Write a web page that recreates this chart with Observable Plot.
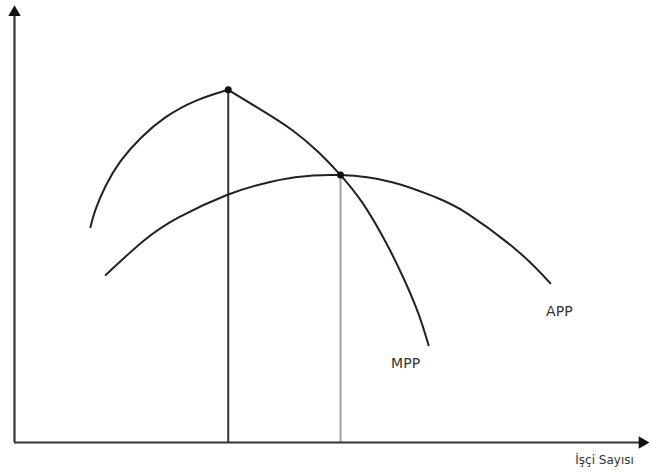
<!DOCTYPE html>
<html>
<head>
<meta charset="utf-8">
<script src="https://cdn.jsdelivr.net/npm/d3@7"></script>
<script src="https://cdn.jsdelivr.net/npm/@observablehq/plot@0.6"></script>
<style>
  html, body { margin: 0; padding: 0; background: #fff; }
  #chart svg { display: block; }
</style>
</head>
<body>
<div id="chart"></div>
<script>
// Labour (x) and output (y) in abstract units
const mppLeftX  = [11.9, 12.7, 14.3, 16.6, 19.8, 23.7, 28.4, 33.5];
const mppLeftY  = [48.7, 52.7, 58.1, 63.6, 68.9, 73.6, 77.3, 79.8];
const mppRightX = [33.5, 38.6, 43.6, 47.7, 51.1, 54.6, 58.2, 61.0, 63.3, 64.9];
const mppRightY = [79.8, 75.3, 70.6, 65.6, 60.5, 54.1, 45.3, 37.1, 29.2, 22.0];
const appX = [14.3, 20.2, 25.8, 33.3, 38.8, 44.0, 51.1, 59.2, 66.0, 71.0, 78.8, 84.0];
const appY = [37.9, 45.6, 51.0, 56.0, 58.5, 60.0, 60.5, 58.9, 55.5, 51.8, 43.4, 36.0];
const keyX = [33.5, 51.1];   // MPP max, MPP = APP
const keyY = [79.8, 60.5];
const curveLabels = ["APP", "MPP"];
const labelX = [85.4, 61.3];
const labelY = [29.6, 17.9];
const axisLabel = "İşçi Sayısı";
const axisTop = 97.3;
const axisRight = 98.4;

const mpp = [
  ...mppLeftX.map((x, i) => ({x, y: mppLeftY[i], seg: "a"})),
  ...mppRightX.map((x, i) => ({x, y: mppRightY[i], seg: "b"}))
];
const app = appX.map((x, i) => ({x, y: appY[i]}));
const keys = keyX.map((x, i) => ({x, y: keyY[i]}));
const labels = curveLabels.map((t, i) => ({t, x: labelX[i], y: labelY[i]}));

const chart = Plot.plot({
  width: 652,
  height: 474,
  marginLeft: 14,
  marginRight: 0,
  marginTop: 0,
  marginBottom: 32,
  x: {domain: [0, 100], axis: null},
  y: {domain: [0, 100], axis: null},
  style: {background: "#fff", fontFamily: "DejaVu Sans, sans-serif"},
  marks: [
    // vertical guide lines
    Plot.ruleX([keys[0]], {x: "x", y1: 0, y2: "y", stroke: "#333", strokeWidth: 2}),
    Plot.ruleX([keys[1]], {x: "x", y1: 0, y2: "y", stroke: "#a0a0a0", strokeWidth: 2}),
    // axes
    Plot.ruleX([0], {y1: 0, y2: axisTop, stroke: "#333", strokeWidth: 2.2}),
    Plot.ruleY([0], {x1: 0, x2: axisRight, stroke: "#333", strokeWidth: 2.2}),
    Plot.dot([{x: 0, y: axisTop}], {x: "x", y: "y", symbol: "triangle", r: 4.6, fill: "#111", stroke: "none"}),
    Plot.dot([{x: axisRight, y: 0}], {x: "x", y: "y", symbol: "triangle", rotate: 90, r: 4.6, fill: "#111", stroke: "none"}),
    // curves
    Plot.line(mpp, {x: "x", y: "y", z: "seg", curve: "natural", stroke: "#222", strokeWidth: 2}),
    Plot.line(app, {x: "x", y: "y", curve: "natural", stroke: "#222", strokeWidth: 2}),
    Plot.dot(keys, {x: "x", y: "y", r: 3.5, fill: "#111", stroke: "none"}),
    // labels
    Plot.text(labels, {x: "x", y: "y", text: "t", fontSize: 14, fill: "#333", letterSpacing: 1, textAnchor: "middle"}),
    Plot.text([axisLabel], {x: 87.9, y: -4.1, text: d => d, fontSize: 12, fill: "#333", textAnchor: "start", letterSpacing: 1})
  ]
});
document.getElementById("chart").appendChild(chart);
</script>
</body>
</html>
